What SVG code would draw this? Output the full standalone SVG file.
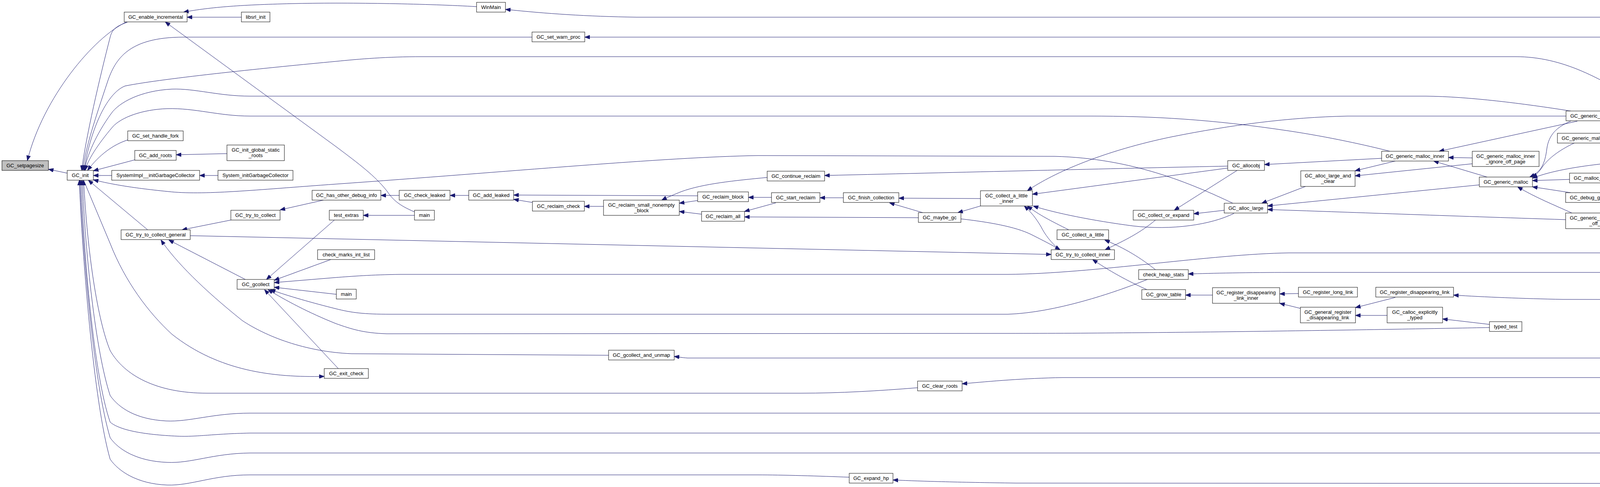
<svg xmlns="http://www.w3.org/2000/svg" width="5160" height="1246" viewBox="0 0 5160 1246">
<defs>
<marker id="ah" markerWidth="13" markerHeight="10" refX="13" refY="5" orient="auto" markerUnits="userSpaceOnUse"><path d="M0,0 L13,5 L0,10 z" fill="#191970" stroke="#191970" stroke-width="1"/></marker>
</defs>
<style>
.node rect{fill:#ffffff;stroke:#000000;stroke-width:1}
.node.root rect{fill:#bfbfbf}
.node text{font-family:"Liberation Sans",Arial,sans-serif;font-size:13px;text-anchor:middle;fill:#000000}
#edges path{fill:none;stroke:#191970;stroke-width:1;marker-end:url(#ah)}
</style>
<rect x="0" y="0" width="5160" height="1246" fill="#ffffff"/>
<g id="edges">
<path d="M172,443 L124,433"/>
<path d="M324,56 C240,95 110,250 70,411"/>
<path d="M326,57 C292,68 286,80 282,95 C255,200 220,350 209,436"/>
<path d="M1061,542 C1020,525 1005,510 990,488 C960,450 920,420 860,375 L423,56"/>
<path d="M618,44 L479,44"/>
<path d="M1220,17 C1100,10 900,6 760,9 C620,12 540,18 470,31"/>
<path d="M1362,95 L470,95 C330,95 295,150 275,210 C245,300 218,380 212,436"/>
<path d="M4290,310 C4260,296 4235,287 4215,275 C4100,200 4000,145 3880,145 L1080,145 C990,145 920,151 860,157 C700,172 420,200 320,220 C270,240 230,340 215,436"/>
<path d="M4021,284 C3900,265 3760,247 3650,246 L640,246 C560,246 500,226 440,228 C360,232 305,262 285,290 C245,345 222,400 216,436"/>
<path d="M3558,387 C3500,372 3400,350 3300,335 C3100,305 2950,297 2790,297 L640,297 C560,297 500,276 428,278 C365,280 310,300 288,325 C250,370 224,410 218,436"/>
<path d="M327,358 C290,370 255,395 224,436"/>
<path d="M345,409 L239,437"/>
<path d="M581,393 L451,396"/>
<path d="M286,449 L239,449"/>
<path d="M558,449 L511,449"/>
<path d="M3156,520 C3050,470 2900,405 2700,400 L1940,398 C1700,402 1300,440 860,471 C650,486 520,500 430,490 C330,480 280,470 239,460"/>
<path d="M378,588 L226,461"/>
<path d="M2349,992 C2250,1000 2150,1006 2050,1006 L530,1006 C400,1006 318,960 282,897 C250,820 224,650 214,461"/>
<path d="M4296,1057 L640,1057 C545,1057 485,1080 425,1077 C350,1073 305,1045 282,1012 C245,900 218,650 211,461"/>
<path d="M4259,1108 L640,1108 C545,1110 505,1118 455,1116 C365,1112 305,1100 282,1080 C240,960 214,650 208,461"/>
<path d="M4295,1159 L640,1159 C545,1160 490,1186 428,1183 C350,1180 303,1150 282,1120 C240,980 212,650 205,461"/>
<path d="M2174,1221 C2100,1218 2000,1215 1940,1215 L640,1215 C545,1215 490,1243 428,1241 C350,1238 303,1205 282,1175 C240,1030 210,650 203,461"/>
<path d="M214,461 L282,623 C320,720 380,800 440,855 C560,950 700,966 830,963"/>
<path d="M866,943 L677,741"/>
<path d="M856,563 L682,715"/>
<path d="M847,664 L702,717"/>
<path d="M4788,597 C4740,615 4650,640 4500,645 C4450,647 4350,647 4300,647 L3300,647 C3100,650 2800,700 2580,702 L1025,702 C950,703 900,707 860,710 L702,723"/>
<path d="M861,753 L702,735"/>
<path d="M2937,715 C2850,750 2700,800 2580,804 L1000,804 C930,804 900,800 860,790 C800,775 740,758 692,741"/>
<path d="M3813,838 C3600,842 3000,853 2580,853 L990,854 C930,852 900,842 860,828 C790,800 730,768 686,741"/>
<path d="M628,715 L432,614"/>
<path d="M1558,909 L900,905 C780,900 680,860 620,820 C520,740 450,670 412,614"/>
<path d="M591,563 L466,588"/>
<path d="M828,512 L717,537"/>
<path d="M1022,500 L975,500"/>
<path d="M1200,500 L1152,500"/>
<path d="M1363,518 L1315,510"/>
<path d="M1545,528 L1496,528"/>
<path d="M1786,501 L1315,499"/>
<path d="M1964,454 C1880,462 1800,470 1745,490 C1725,498 1708,505 1694,512"/>
<path d="M1786,513 L1739,520"/>
<path d="M1796,548 L1739,541"/>
<path d="M1975,505 L1916,505"/>
<path d="M1986,519 L1906,541"/>
<path d="M2351,557 L1906,555"/>
<path d="M2159,506 L2099,506"/>
<path d="M2510,508 L2301,507"/>
<path d="M2362,544 L2277,519"/>
<path d="M2510,527 L2452,544"/>
<path d="M3143,425 C2900,430 2500,440 2111,449"/>
<path d="M2460,560 C2530,568 2600,580 2640,600 C2670,615 2695,628 2714,639"/>
<path d="M2712,639 C2690,620 2675,600 2665,580 C2652,558 2640,543 2622,527"/>
<path d="M2736,588 C2690,565 2660,550 2630,527"/>
<path d="M3159,546 C3100,575 3000,590 2900,578 C2800,565 2700,545 2645,527"/>
<path d="M3143,430 L2643,497"/>
<path d="M4009,297 L3450,297 C3300,300 3150,320 3000,350 C2830,385 2700,440 2630,488"/>
<path d="M3167,436 L3006,538"/>
<path d="M3134,538 L3056,547"/>
<path d="M2958,563 C2920,595 2880,615 2829,639"/>
<path d="M2958,690 C2920,660 2880,635 2828,614"/>
<path d="M487,603 L2691,651"/>
<path d="M2936,741 C2900,725 2850,700 2797,664"/>
<path d="M3104,755 L3035,755"/>
<path d="M3324,751 L3276,752"/>
<path d="M3329,789 L3276,776"/>
<path d="M3572,761 L3470,787"/>
<path d="M3551,807 L3470,807"/>
<path d="M3813,830 L3693,816"/>
<path d="M5030,903 C4930,830 4800,770 4620,767 L4000,766 C3900,764 3800,760 3721,755"/>
<path d="M5036,903 C4950,800 4800,700 4630,697 L3300,697 C3200,697 3100,699 3042,701"/>
<path d="M5026,916 L1760,916 C1745,915 1735,913 1726,912"/>
<path d="M5026,921 C4900,950 4750,966 4600,966 L2720,966 C2620,968 2540,975 2463,982"/>
<path d="M5030,929 C4970,960 4850,1010 4644,1017"/>
<path d="M5035,929 C4950,1000 4800,1090 4643,1124"/>
<path d="M5045,929 C4980,1030 4880,1150 4647,1179"/>
<path d="M5046,929 C5000,1080 4950,1160 4880,1180 C4760,1220 4650,1237 4500,1237 L2600,1236 C2450,1234 2350,1231 2286,1228"/>
<path d="M5046,903 C5030,800 5010,680 5000,600 C4980,420 4950,250 4880,170 C4800,80 4700,44 4620,44 L1630,44 C1500,42 1400,35 1294,24"/>
<path d="M5050,903 C5035,800 5020,700 5008,620 C4985,470 4960,340 4900,260 C4820,150 4700,95 4590,95 L1497,95"/>
<path d="M5032,903 C4990,780 4955,670 4930,610 C4905,560 4880,525 4849,484"/>
<path d="M4591,1004 L4489,623 C4482,520 4478,430 4455,385 C4440,355 4418,343 4396,334"/>
<path d="M4547,1027 L4399,1047"/>
<path d="M4547,1020 C4500,1035 4470,1050 4455,1065 C4440,1080 4430,1088 4415,1095"/>
<path d="M4547,1024 C4480,1045 4465,1070 4458,1100 C4452,1130 4438,1141 4400,1150"/>
<path d="M4524,1071 L4399,1062"/>
<path d="M4524,1085 L4437,1097"/>
<path d="M4547,1130 L4437,1118"/>
<path d="M4544,1175 C4500,1165 4470,1150 4450,1140 C4435,1132 4425,1126 4410,1120"/>
<path d="M4547,1139 L4400,1152"/>
<path d="M4544,1179 L4400,1165"/>
<path d="M4285,277 L4184,289"/>
<path d="M4038,310 L3684,387"/>
<path d="M4021,310 C3985,325 3965,345 3960,380 C3955,420 3945,440 3916,453"/>
<path d="M4030,366 C3990,385 3965,405 3950,425 C3940,440 3933,447 3922,453"/>
<path d="M4269,407 C4150,412 4000,425 3923,456"/>
<path d="M4018,459 L3923,462"/>
<path d="M4021,493 L3923,478"/>
<path d="M4024,545 C3980,525 3930,505 3885,478"/>
<path d="M3807,453 L3670,412"/>
<path d="M3769,404 L3708,403"/>
<path d="M3572,412 L3469,437"/>
<path d="M3769,419 L3469,450"/>
<path d="M3537,405 L3237,421"/>
<path d="M3787,473 L3245,527"/>
<path d="M4008,562 C3700,552 3450,543 3245,536"/>
<path d="M3342,477 L3230,520"/>
<path d="M4263,333 L4200,341"/>
<path d="M4269,389 L4167,366"/>
<path d="M4261,540 L4187,550"/>
<path d="M4255,579 L4187,574"/>
<path d="M4749,467 L4187,497"/>
<path d="M4511,191 C4480,205 4468,225 4462,250 C4455,280 4440,296 4412,308"/>
<path d="M4525,257 C4490,270 4460,285 4423,308"/>
<path d="M4559,300 L4433,312"/>
<path d="M4512,343 L4433,332"/>
<path d="M4552,412 L4427,408"/>
<path d="M4810,305 C4770,350 4720,385 4638,406"/>
<path d="M4807,571 L4621,426"/>
<path d="M4948,292 L4890,292"/>
<path d="M4810,279 C4780,250 4740,220 4688,191"/>
<path d="M4813,443 C4780,370 4740,270 4720,225 C4710,210 4695,198 4676,191"/>
<path d="M4507,524 L4435,524"/>
<path d="M4510,587 L4441,586"/>
<path d="M1061,551 L930,551"/>
</g>
<g id="n_setpagesize" class="node root"><rect x="5" y="411" width="119" height="25"/><text x="64.5" y="428">GC_setpagesize</text></g>
<g id="n_init" class="node"><rect x="172" y="436" width="67" height="25"/><text x="205.5" y="453">GC_init</text></g>
<g id="n_enable_incremental" class="node"><rect x="318" y="31" width="161" height="25"/><text x="398.5" y="48">GC_enable_incremental</text></g>
<g id="n_libsrl_init" class="node"><rect x="618" y="31" width="73" height="25"/><text x="654.5" y="48">libsrl_init</text></g>
<g id="n_set_handle_fork" class="node"><rect x="327" y="335" width="142" height="25"/><text x="398" y="352">GC_set_handle_fork</text></g>
<g id="n_add_roots" class="node"><rect x="345" y="385" width="106" height="25"/><text x="398" y="402">GC_add_roots</text></g>
<g id="n_init_global_static_roots" class="node"><rect x="581" y="371" width="147" height="40"/><text x="654.5" y="387.5">GC_init_global_static</text><text x="654.5" y="402">_roots</text></g>
<g id="n_systemimpl" class="node"><rect x="286" y="436" width="225" height="25"/><text x="398.5" y="453">SystemImpl__initGarbageCollector</text></g>
<g id="n_system_init" class="node"><rect x="558" y="436" width="192" height="25"/><text x="654" y="453">System_initGarbageCollector</text></g>
<g id="n_try_to_collect_general" class="node"><rect x="310" y="588" width="177" height="25"/><text x="398.5" y="605">GC_try_to_collect_general</text></g>
<g id="n_try_to_collect" class="node"><rect x="591" y="538" width="126" height="25"/><text x="654" y="555">GC_try_to_collect</text></g>
<g id="n_gcollect" class="node"><rect x="607" y="715" width="95" height="25"/><text x="654.5" y="732">GC_gcollect</text></g>
<g id="n_has_other_debug_info" class="node"><rect x="799" y="487" width="176" height="25"/><text x="887" y="504">GC_has_other_debug_info</text></g>
<g id="n_test_extras" class="node"><rect x="843" y="538" width="87" height="25"/><text x="886.5" y="555">test_extras</text></g>
<g id="n_check_marks_int_list" class="node"><rect x="813" y="639" width="146" height="25"/><text x="886" y="656">check_marks_int_list</text></g>
<g id="n_main_a" class="node"><rect x="1061" y="538" width="51" height="25"/><text x="1086.5" y="555">main</text></g>
<g id="n_main_b" class="node"><rect x="861" y="740" width="51" height="25"/><text x="886.5" y="757">main</text></g>
<g id="n_exit_check" class="node"><rect x="830" y="943" width="113" height="25"/><text x="886.5" y="960">GC_exit_check</text></g>
<g id="n_gcollect_and_unmap" class="node"><rect x="1558" y="896" width="168" height="25"/><text x="1642" y="913">GC_gcollect_and_unmap</text></g>
<g id="n_winmain" class="node"><rect x="1220" y="6" width="74" height="25"/><text x="1257" y="23">WinMain</text></g>
<g id="n_set_warn_proc" class="node"><rect x="1362" y="82" width="135" height="25"/><text x="1429.5" y="99">GC_set_warn_proc</text></g>
<g id="n_check_leaked" class="node"><rect x="1022" y="487" width="130" height="25"/><text x="1087" y="504">GC_check_leaked</text></g>
<g id="n_add_leaked" class="node"><rect x="1200" y="487" width="115" height="25"/><text x="1257.5" y="504">GC_add_leaked</text></g>
<g id="n_reclaim_check" class="node"><rect x="1363" y="515" width="133" height="25"/><text x="1429.5" y="532">GC_reclaim_check</text></g>
<g id="n_reclaim_small_nonempty_block" class="node"><rect x="1545" y="512" width="194" height="39"/><text x="1642" y="528.5">GC_reclaim_small_nonempty</text><text x="1642" y="543">_block</text></g>
<g id="n_continue_reclaim" class="node"><rect x="1964" y="438" width="147" height="25"/><text x="2037.5" y="455">GC_continue_reclaim</text></g>
<g id="n_reclaim_block" class="node"><rect x="1786" y="491" width="130" height="25"/><text x="1851" y="508">GC_reclaim_block</text></g>
<g id="n_start_reclaim" class="node"><rect x="1975" y="493" width="124" height="25"/><text x="2037" y="510">GC_start_reclaim</text></g>
<g id="n_finish_collection" class="node"><rect x="2159" y="493" width="142" height="25"/><text x="2230" y="510">GC_finish_collection</text></g>
<g id="n_reclaim_all" class="node"><rect x="1796" y="541" width="110" height="25"/><text x="1851" y="558">GC_reclaim_all</text></g>
<g id="n_maybe_gc" class="node"><rect x="2351" y="544" width="109" height="25"/><text x="2405.5" y="561">GC_maybe_gc</text></g>
<g id="n_collect_a_little_inner" class="node"><rect x="2510" y="488" width="133" height="39"/><text x="2576.5" y="504.5">GC_collect_a_little</text><text x="2576.5" y="519">_inner</text></g>
<g id="n_clear_roots" class="node"><rect x="2349" y="975" width="114" height="25"/><text x="2406" y="992">GC_clear_roots</text></g>
<g id="n_expand_hp" class="node"><rect x="2174" y="1211" width="112" height="25"/><text x="2230" y="1228">GC_expand_hp</text></g>
<g id="n_allocobj" class="node"><rect x="3143" y="411" width="94" height="25"/><text x="3190" y="428">GC_allocobj</text></g>
<g id="n_alloc_large_and_clear" class="node"><rect x="3330" y="437" width="139" height="40"/><text x="3399.5" y="453.5">GC_alloc_large_and</text><text x="3399.5" y="468">_clear</text></g>
<g id="n_alloc_large" class="node"><rect x="3134" y="520" width="111" height="25"/><text x="3189.5" y="537">GC_alloc_large</text></g>
<g id="n_collect_or_expand" class="node"><rect x="2901" y="538" width="155" height="25"/><text x="2978.5" y="555">GC_collect_or_expand</text></g>
<g id="n_collect_a_little" class="node"><rect x="2706" y="588" width="132" height="25"/><text x="2772" y="605">GC_collect_a_little</text></g>
<g id="n_try_to_collect_inner" class="node"><rect x="2691" y="639" width="162" height="25"/><text x="2772" y="656">GC_try_to_collect_inner</text></g>
<g id="n_check_heap_stats" class="node"><rect x="2915" y="690" width="127" height="25"/><text x="2978.5" y="707">check_heap_stats</text></g>
<g id="n_grow_table" class="node"><rect x="2923" y="741" width="112" height="25"/><text x="2979" y="758">GC_grow_table</text></g>
<g id="n_register_disappearing_link_inner" class="node"><rect x="3104" y="736" width="172" height="40"/><text x="3190" y="752.5">GC_register_disappearing</text><text x="3190" y="767">_link_inner</text></g>
<g id="n_register_long_link" class="node"><rect x="3324" y="735" width="151" height="25"/><text x="3399.5" y="752">GC_register_long_link</text></g>
<g id="n_general_register_disappearing_link" class="node"><rect x="3329" y="786" width="141" height="40"/><text x="3399.5" y="802.5">GC_general_register</text><text x="3399.5" y="817">_disappearing_link</text></g>
<g id="n_register_disappearing_link" class="node"><rect x="3522" y="735" width="199" height="25"/><text x="3621.5" y="752">GC_register_disappearing_link</text></g>
<g id="n_calloc_explicitly_typed" class="node"><rect x="3551" y="786" width="142" height="40"/><text x="3622" y="802.5">GC_calloc_explicitly</text><text x="3622" y="817">_typed</text></g>
<g id="n_typed_test" class="node"><rect x="3813" y="823" width="83" height="25"/><text x="3854.5" y="840">typed_test</text></g>
<g id="n_generic_malloc_inner" class="node"><rect x="3537" y="387" width="171" height="25"/><text x="3622.5" y="404">GC_generic_malloc_inner</text></g>
<g id="n_generic_malloc_inner_ignore_off_page" class="node"><rect x="3769" y="387" width="171" height="39"/><text x="3854.5" y="403.5">GC_generic_malloc_inner</text><text x="3854.5" y="418">_ignore_off_page</text></g>
<g id="n_generic_malloc" class="node"><rect x="3787" y="453" width="136" height="25"/><text x="3855" y="470">GC_generic_malloc</text></g>
<g id="n_generic_malloc_many" class="node"><rect x="4009" y="284" width="175" height="25"/><text x="4096.5" y="301">GC_generic_malloc_many</text></g>
<g id="n_generic_malloc_uncollectable" class="node"><rect x="3987" y="341" width="219" height="25"/><text x="4096.5" y="358">GC_generic_malloc_uncollectable</text></g>
<g id="n_malloc_kind_global" class="node"><rect x="4018" y="443" width="159" height="25"/><text x="4097.5" y="460">GC_malloc_kind_global</text></g>
<g id="n_debug_generic_malloc" class="node"><rect x="4008" y="493" width="179" height="25"/><text x="4097.5" y="510">GC_debug_generic_malloc</text></g>
<g id="n_generic_malloc_ignore_off_page" class="node"><rect x="4008" y="545" width="179" height="40"/><text x="4097.5" y="561.5">GC_generic_malloc_ignore</text><text x="4097.5" y="576">_off_page</text></g>
<g id="n_malloc_many" class="node"><rect x="4285" y="257" width="126" height="25"/><text x="4348" y="274">GC_malloc_many</text></g>
<g id="n_malloc_uncollectable" class="node"><rect x="4263" y="308" width="170" height="25"/><text x="4348" y="325">GC_malloc_uncollectable</text></g>
<g id="n_generic_or_special_malloc" class="node"><rect x="4269" y="385" width="158" height="40"/><text x="4348" y="401.5">GC_generic_or_special</text><text x="4348" y="416">_malloc</text></g>
<g id="n_malloc_atomic_ignore_off_page" class="node"><rect x="4261" y="505" width="174" height="40"/><text x="4348" y="521.5">GC_malloc_atomic_ignore</text><text x="4348" y="536">_off_page</text></g>
<g id="n_malloc_ignore_off_page" class="node"><rect x="4255" y="573" width="186" height="25"/><text x="4348" y="590">GC_malloc_ignore_off_page</text></g>
<g id="n_debug_malloc_uncollectable" class="node"><rect x="4489" y="165" width="212" height="25"/><text x="4595" y="182">GC_debug_malloc_uncollectable</text></g>
<g id="n_traceable_alloc_template_allocate" class="node"><rect x="4512" y="217" width="166" height="40"/><text x="4595" y="233.5">traceable_alloc_template</text><text x="4595" y="248">::allocate</text></g>
<g id="n_initomc" class="node"><rect x="4559" y="283" width="72" height="25"/><text x="4595" y="300">InitOMC</text></g>
<g id="n_single_client_traceable" class="node"><rect x="4512" y="335" width="166" height="40"/><text x="4595" y="351.5">single_client_traceable</text><text x="4595" y="366">_alloc_template::allocate</text></g>
<g id="n_realloc" class="node"><rect x="4552" y="400" width="86" height="25"/><text x="4595" y="417">GC_realloc</text></g>
<g id="n_debug_realloc" class="node"><rect x="4760" y="279" width="130" height="25"/><text x="4825" y="296">GC_debug_realloc</text></g>
<g id="n_debug_realloc_replacement" class="node"><rect x="4948" y="279" width="207" height="25"/><text x="5051.5" y="296">GC_debug_realloc_replacement</text></g>
<g id="n_debug_generic_or_special_malloc" class="node"><rect x="4749" y="443" width="151" height="41"/><text x="4824.5" y="459.5">GC_debug_generic_or</text><text x="4824.5" y="474">_special_malloc</text></g>
<g id="n_debug_malloc_atomic_ignore_off_page" class="node"><rect x="4507" y="502" width="175" height="40"/><text x="4594.5" y="518.5">GC_debug_malloc_atomic</text><text x="4594.5" y="533">_ignore_off_page</text></g>
<g id="n_debug_malloc_ignore_off_page" class="node"><rect x="4510" y="567" width="171" height="41"/><text x="4595.5" y="583.5">GC_debug_malloc_ignore</text><text x="4595.5" y="598">_off_page</text></g>
<g id="n_amiga_realloc" class="node"><rect x="4760" y="571" width="130" height="25"/><text x="4825" y="588">GC_amiga_realloc</text></g>
<g id="n_main_c" class="node"><rect x="5026" y="903" width="51" height="25"/><text x="5051.5" y="920">main</text></g>
<g id="n_run_one_test" class="node"><rect x="4547" y="1004" width="97" height="25"/><text x="4595.5" y="1021">run_one_test</text></g>
<g id="n_debug_ptr_store_and_dirty" class="node"><rect x="4524" y="1055" width="142" height="41"/><text x="4595" y="1071.5">GC_debug_ptr_store</text><text x="4595" y="1086">_and_dirty</text></g>
<g id="n_pre_incr" class="node"><rect x="4547" y="1121" width="96" height="25"/><text x="4595" y="1138">GC_pre_incr</text></g>
<g id="n_post_incr" class="node"><rect x="4544" y="1173" width="103" height="25"/><text x="4595.5" y="1190">GC_post_incr</text></g>
<g id="n_is_visible" class="node"><rect x="4296" y="1044" width="103" height="25"/><text x="4347.5" y="1061">GC_is_visible</text></g>
<g id="n_is_valid_displacement" class="node"><rect x="4259" y="1095" width="178" height="25"/><text x="4348" y="1112">GC_is_valid_displacement</text></g>
<g id="n_same_obj" class="node"><rect x="4295" y="1146" width="105" height="25"/><text x="4347.5" y="1163">GC_same_obj</text></g>
</svg>
